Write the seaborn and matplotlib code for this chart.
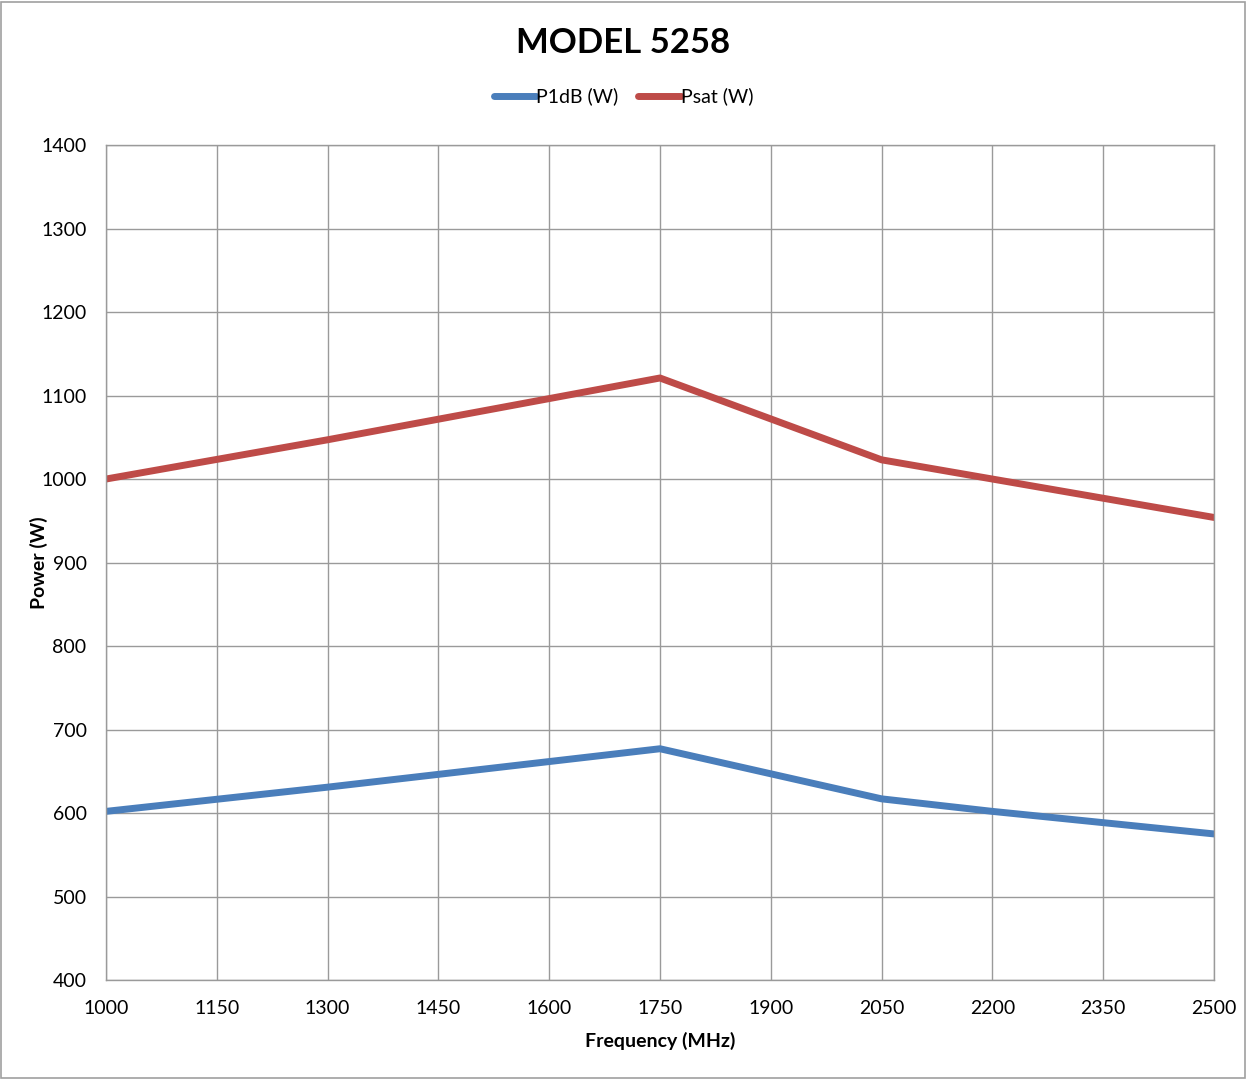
import numpy as np
import pandas as pd
import seaborn as sns
import matplotlib
matplotlib.use('Agg')
import matplotlib.pyplot as plt

# values
freq = [1000, 1300, 1750, 2050, 2200, 2500]
p1db = [602, 631, 677, 617, 602, 575]
psat = [1000, 1047, 1121, 1023, 1000, 954]
xticks = list(range(1000, 2501, 150))
yticks = list(range(400, 1401, 100))

df = pd.DataFrame({
    'Frequency (MHz)': freq * 2,
    'Power (W)': p1db + psat,
    'series': ['P1dB (W)'] * len(freq) + ['Psat (W)'] * len(freq),
})

sns.set_style('white')
plt.rcParams['font.family'] = ['Lato', 'DejaVu Sans']
plt.rcParams['text.color'] = 'black'
plt.rcParams['axes.labelcolor'] = 'black'

fig = plt.figure(figsize=(12.47, 10.79), dpi=100)
ax = fig.add_axes([0.085, 0.0917, 0.8885, 0.7739])

sns.lineplot(data=df, x='Frequency (MHz)', y='Power (W)', hue='series',
             palette={'P1dB (W)': '#4a7ebb', 'Psat (W)': '#be4b48'},
             linewidth=5, ax=ax, legend=True)

ax.set_xlim(1000, 2500)
ax.set_ylim(400, 1400)
ax.set_xticks(xticks)
ax.set_yticks(yticks)
ax.grid(True, color='#9a9a9a', linewidth=1.0)
ax.set_axisbelow(True)
for s in ax.spines.values():
    s.set_color('#9a9a9a')
    s.set_linewidth(1.0)
ax.tick_params(axis='both', direction='out', length=6, width=1.0, color='#9a9a9a',
               labelsize=14, labelcolor='black')
ax.tick_params(axis='x', pad=8)
ax.tick_params(axis='y', pad=8)

ax.set_xlabel('Frequency (MHz)', fontsize=14, fontweight='bold')
ax.xaxis.set_label_coords(0.5, -0.062)
ax.set_ylabel('Power (W)', fontsize=14, fontweight='bold')
ax.yaxis.set_label_coords(-0.052, 0.5)

fig.suptitle('MODEL 5258', x=0.5, y=0.975, fontsize=25, fontweight='bold')

handles, labels = ax.get_legend_handles_labels()
ax.legend(handles, labels, loc='center', bbox_to_anchor=(0.5, 0.9105),
          bbox_transform=fig.transFigure, ncol=2, frameon=False, fontsize=14,
          handlelength=2.2, handletextpad=0.0, columnspacing=1.0)

# light grey border around the whole chart
fig.patches.append(plt.Rectangle((0.001, 0.001), 0.997, 0.997, transform=fig.transFigure,
                                 fill=False, edgecolor='#a0a0a0', linewidth=1.2))

fig.savefig('out.png', dpi=100)
